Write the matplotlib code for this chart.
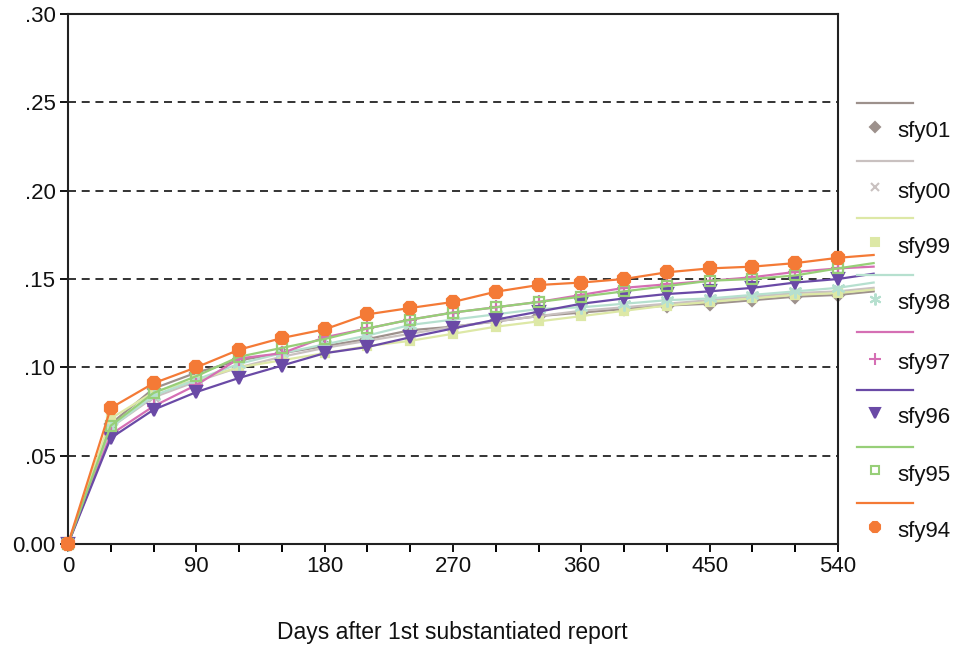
import matplotlib
matplotlib.use("Agg")
import matplotlib.pyplot as plt
from matplotlib.lines import Line2D

plt.rcParams['font.family'] = ['Liberation Sans', 'DejaVu Sans']

# Days since first substantiated report (last entry is the trailing segment end)
days = [0, 30, 60, 90, 120, 150, 180, 210, 240, 270, 300, 330, 360,
        390, 420, 450, 480, 510, 540, 565]

series_names = ['sfy01', 'sfy00', 'sfy99', 'sfy98', 'sfy97', 'sfy96', 'sfy95', 'sfy94']

sfy01 = [0, 0.068, 0.088, 0.097, 0.104, 0.108, 0.112, 0.116, 0.121, 0.123, 0.126,
         0.129, 0.131, 0.133, 0.135, 0.136, 0.138, 0.140, 0.141, 0.143]
sfy00 = [0, 0.066, 0.083, 0.092, 0.100, 0.106, 0.111, 0.115, 0.119, 0.123, 0.126,
         0.129, 0.132, 0.134, 0.136, 0.138, 0.140, 0.142, 0.143, 0.145]
sfy99 = [0, 0.071, 0.086, 0.093, 0.100, 0.104, 0.108, 0.112, 0.115, 0.119, 0.123,
         0.126, 0.129, 0.132, 0.135, 0.137, 0.139, 0.141, 0.142, 0.144]
sfy98 = [0, 0.066, 0.084, 0.093, 0.102, 0.108, 0.113, 0.118, 0.124, 0.127, 0.130,
         0.133, 0.134, 0.136, 0.138, 0.139, 0.141, 0.143, 0.145, 0.148]
sfy97 = [0, 0.062, 0.078, 0.090, 0.105, 0.108, 0.117, 0.122, 0.127, 0.131, 0.134,
         0.137, 0.141, 0.145, 0.147, 0.149, 0.151, 0.154, 0.156, 0.157]
sfy96 = [0, 0.060, 0.076, 0.086, 0.094, 0.101, 0.108, 0.1115, 0.117, 0.122, 0.127,
         0.1315, 0.136, 0.139, 0.1415, 0.143, 0.145, 0.148, 0.150, 0.153]
sfy95 = [0, 0.067, 0.0855, 0.095, 0.106, 0.111, 0.116, 0.122, 0.127, 0.131, 0.134,
         0.137, 0.140, 0.143, 0.146, 0.149, 0.150, 0.152, 0.156, 0.159]
sfy94 = [0, 0.077, 0.091, 0.100, 0.110, 0.1166, 0.1215, 0.1300, 0.1336, 0.137, 0.1428,
         0.1466, 0.148, 0.150, 0.1538, 0.156, 0.157, 0.159, 0.162, 0.1636]

values = [sfy01, sfy00, sfy99, sfy98, sfy97, sfy96, sfy95, sfy94]

colors = ['#9d918c', '#c9c1c0', '#dde8a6', '#b6e0cf', '#d56fb4', '#6a4aa6', '#97cf78', '#f47a36']
markers = ['D', 'x', 's', (6, 2, 0), '+', 'v', 's', '8']
marker_sizes = [6, 7, 6, 10, 10, 9, 7, 10]
filled = [True, False, True, False, False, True, False, True]

y_ticks = [0.0, 0.05, 0.10, 0.15, 0.20, 0.25, 0.30]
y_tick_labels = ['0.00', '.05', '.10', '.15', '.20', '.25', '.30']
x_major = [0, 90, 180, 270, 360, 450, 540]
x_minor = [30, 60, 120, 150, 210, 240, 300, 330, 390, 420, 480, 510]
x_label = 'Days after 1st substantiated report'

fig = plt.figure(figsize=(9.56, 6.49), dpi=100)
W, H = 956, 649
ax = fig.add_axes([68 / W, 1 - 544 / H, (838 - 68) / W, (544 - 14) / H])

n_marked = len(days) - 1
for i, (name, vals) in enumerate(zip(series_names, values)):
    c = colors[i]
    ax.plot(days, vals, color=c, lw=1.6, clip_on=False, zorder=2 + i,
            solid_joinstyle='round')
    mfc = c if filled[i] else 'none'
    ax.plot(days[:n_marked], vals[:n_marked], linestyle='none', marker=markers[i],
            ms=marker_sizes[i], mfc=mfc, mec=c, mew=1.6, clip_on=False, zorder=2 + i)

ax.set_xlim(0, 540)
ax.set_ylim(0, 0.30)
ax.set_yticks(y_ticks)
ax.set_yticklabels(y_tick_labels)
ax.set_xticks(x_major)
ax.set_xticklabels([str(v) for v in x_major])
ax.set_xticks(x_minor, minor=True)

ax.tick_params(axis='both', which='major', direction='out', length=6, width=1.4,
               labelsize=16, colors='#111111', pad=3)
ax.tick_params(axis='x', which='minor', direction='out', length=6, width=1.4)
for s in ax.spines.values():
    s.set_linewidth(1.5)
    s.set_color('#222222')

ax.yaxis.grid(True, color='#1a1a1a', lw=1.25, linestyle=(0, (4.6, 3.3)))
ax.set_axisbelow(True)

fig.text(452 / W, 1 - 633 / H, x_label, fontsize=16.5, ha='center', va='center',
         color='#111111')

# Key: one line row followed by a marker-and-name row for each series
line_rows = [103, 161, 218, 275, 332, 390, 447, 503]
marker_rows = [127, 187, 242, 299, 359, 413, 470, 527]
for i, name in enumerate(series_names):
    c = colors[i]
    ly = 1 - line_rows[i] / H
    fig.add_artist(Line2D([857 / W, 913 / W], [ly, ly], color=c, lw=1.6,
                          transform=fig.transFigure))
    my = 1 - marker_rows[i] / H
    mfc = c if filled[i] else 'none'
    fig.add_artist(Line2D([875 / W], [my], linestyle='none', marker=markers[i],
                          ms=marker_sizes[i] * 0.85, mfc=mfc, mec=c, mew=1.5,
                          transform=fig.transFigure))
    fig.text(897 / W, 1 - (marker_rows[i] + 5) / H, name, fontsize=16,
             va='center', ha='left', color='#111111')

fig.savefig('out.png', dpi=100)
